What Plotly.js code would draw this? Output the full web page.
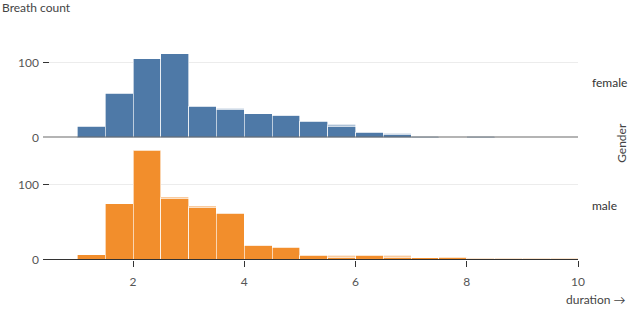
<!DOCTYPE html>
<html>
<head>
<meta charset="utf-8">
<script src="https://cdn.plot.ly/plotly-3.0.1.min.js"></script>
<style>html,body{margin:0;padding:0;background:#fff;}#chart{width:630px;height:310px;}</style>
</head>
<body>
<div id="chart"></div>
<script>
// duration bins (width 0.5), bin centers
const binMid = [1.25,1.75,2.25,2.75,3.25,3.75,4.25,4.75,5.25,5.75,6.25,6.75,7.25,7.75,8.25,8.75,9.25,9.75];
const binWidth = 0.5;
// Breath counts per bin, main part and light top part
const femaleMain = [15,59,105,112,41.5,38,32,29,22,15,7,4.5,2,0,2,0,0,0];
const femaleTop  = [0,0,0,0,0,1,0,1.5,0,3,0,1,0,0,0,0,0,0];
const maleMain   = [6.7,75,146,82,70,62.5,19,17,6.5,3.5,6.5,3.5,2.7,3.7,2.5,2.5,2,2];
const maleTop    = [0,0,0,2,2,0,1,0,0,3,0,2.5,0,0,0,0,0,0];
const facets = ["female","male"];
const yTicks = [0,100];
const xTicks = [2,4,6,8,10];

const FONT = "Lato, 'Noto Sans', sans-serif";
const widths = binMid.map(()=>binWidth);
function bar(y, color, xa, ya, op){
  return {type:"bar", x:binMid, y:y, width:widths, xaxis:xa, yaxis:ya,
    marker:{color:color, opacity:op, line:{color:"rgba(255,255,255,0.9)", width:0.7}}, hoverinfo:"skip", showlegend:false};
}
const data = [
  bar(femaleMain, "#4e79a7", "x", "y", 1),
  bar(femaleTop, "#4e79a7", "x", "y", 0.45),
  bar(maleMain, "#f28e2c", "x2", "y2", 1),
  bar(maleTop, "#f28e2c", "x2", "y2", 0.45)
];
const yax = (dom)=>({domain:dom, range:[0,146], tickvals:yTicks, ticks:"inside", ticklen:6, tickcolor:"#333",
  showgrid:true, gridcolor:"#ececec", gridwidth:1, zeroline:false, showline:false, ticklabelstandoff:3,
  tickfont:{family:FONT, size:12, color:"#555"}, fixedrange:true});
const xr = [0.382, 10];
const layout = {
  width:630, height:310, margin:{l:43, r:52, t:28, b:50},
  paper_bgcolor:"#fff", plot_bgcolor:"#fff", barmode:"stack", bargap:0,
  xaxis:{domain:[0,1], range:xr, anchor:"y", showticklabels:false, ticks:"", showgrid:false, zeroline:false, showline:false},
  xaxis2:{domain:[0,1], range:xr, anchor:"y2", tickvals:xTicks, ticks:"outside", ticklen:6, tickwidth:1, tickcolor:"#333",
    ticklabelstandoff:5, showgrid:false, zeroline:false, showline:false, tickfont:{family:FONT, size:12, color:"#555"}},
  yaxis:yax([0.528,1]),
  yaxis2:yax([0,0.472]),
  shapes:[
    {type:"line", xref:"x domain", yref:"y", x0:0, x1:1, y0:0, y1:0, line:{color:"#6a6a6a", width:2}},
    {type:"line", xref:"x2 domain", yref:"y2", x0:0, x1:1, y0:0, y1:0, line:{color:"#333", width:2}}
  ],
  annotations:[
    {text:"Breath count", xref:"paper", yref:"paper", x:-0.0804, y:1.09, xanchor:"left", yanchor:"middle", showarrow:false, font:{family:FONT, size:12, color:"#444"}},
    {text:"duration →", xref:"paper", yref:"paper", x:1.0935, y:-0.172, xanchor:"right", yanchor:"middle", showarrow:false, font:{family:FONT, size:12, color:"#444"}},
    {text:facets[0], xref:"paper", yref:"paper", x:1.0224, y:0.763, xanchor:"left", yanchor:"middle", showarrow:false, font:{family:FONT, size:12, color:"#333"}},
    {text:facets[1], xref:"paper", yref:"paper", x:1.0224, y:0.233, xanchor:"left", yanchor:"middle", showarrow:false, font:{family:FONT, size:12, color:"#333"}},
    {text:"Gender", xref:"paper", yref:"paper", x:1.080, y:0.504, xanchor:"center", yanchor:"middle", textangle:-90, showarrow:false, font:{family:FONT, size:12, color:"#444"}}
  ]
};
Plotly.newPlot("chart", data, layout, {displayModeBar:false, staticPlot:true});
</script>
</body>
</html>
